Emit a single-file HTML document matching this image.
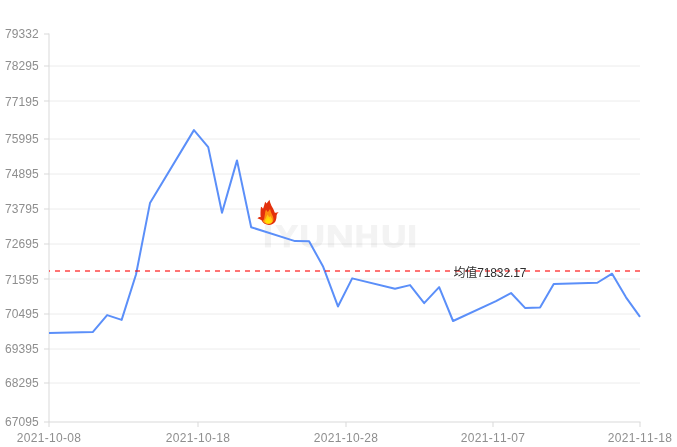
<!DOCTYPE html>
<html lang="zh-CN">
<head>
<meta charset="utf-8">
<title>均值 71832.17</title>
<style>
html,body{margin:0;padding:0;background:#fff;}
body{width:677px;height:447px;overflow:hidden;position:relative;font-family:"Liberation Sans","Noto Sans CJK SC",sans-serif;}
svg{position:absolute;left:0;top:0;display:block;}
text{font-family:"Liberation Sans","Noto Sans CJK SC",sans-serif;font-size:12px;font-kerning:none;}
.yl{text-anchor:end;fill:#8e8e8e;letter-spacing:0.08px;}
.xl{text-anchor:middle;fill:#8e8e8e;letter-spacing:0.3px;}
</style>
</head>
<body>
<svg width="677" height="447" viewBox="0 0 677 447">

<g stroke="#ececec" stroke-width="1" fill="none">
<line x1="49" y1="66" x2="640" y2="66"/>
<line x1="49" y1="101" x2="640" y2="101"/>
<line x1="49" y1="139" x2="640" y2="139"/>
<line x1="49" y1="174" x2="640" y2="174"/>
<line x1="49" y1="209" x2="640" y2="209"/>
<line x1="49" y1="244" x2="640" y2="244"/>
<line x1="49" y1="279" x2="640" y2="279"/>
<line x1="49" y1="314" x2="640" y2="314"/>
<line x1="49" y1="349" x2="640" y2="349"/>
<line x1="49" y1="383" x2="640" y2="383"/>
</g>
<text y="246.9" style="font-size:31px;font-weight:bold;fill:#000;stroke:#000;opacity:0.042;stroke-width:1.2px;stroke-linejoin:miter;text-rendering:geometricPrecision;"><tspan x="263.32" textLength="9.45" lengthAdjust="spacingAndGlyphs">I</tspan><tspan x="275.83" textLength="22.10" lengthAdjust="spacingAndGlyphs">Y</tspan><tspan x="299.50" textLength="25.23" lengthAdjust="spacingAndGlyphs">U</tspan><tspan x="326.03" textLength="27.76" lengthAdjust="spacingAndGlyphs">N</tspan><tspan x="354.88" textLength="23.95" lengthAdjust="spacingAndGlyphs">H</tspan><tspan x="381.21" textLength="25.11" lengthAdjust="spacingAndGlyphs">U</tspan><tspan x="407.57" textLength="9.26" lengthAdjust="spacingAndGlyphs">I</tspan></text>
<g stroke="#d9d9d9" stroke-width="1" fill="none">
<line x1="49" y1="33.5" x2="49" y2="427"/>
<line x1="44" y1="422" x2="640.5" y2="422"/>
<line x1="44" y1="34" x2="49" y2="34"/>
<line x1="44" y1="66" x2="49" y2="66"/>
<line x1="44" y1="101" x2="49" y2="101"/>
<line x1="44" y1="139" x2="49" y2="139"/>
<line x1="44" y1="174" x2="49" y2="174"/>
<line x1="44" y1="209" x2="49" y2="209"/>
<line x1="44" y1="244" x2="49" y2="244"/>
<line x1="44" y1="279" x2="49" y2="279"/>
<line x1="44" y1="314" x2="49" y2="314"/>
<line x1="44" y1="349" x2="49" y2="349"/>
<line x1="44" y1="383" x2="49" y2="383"/>
<line x1="198" y1="422" x2="198" y2="427"/>
<line x1="346" y1="422" x2="346" y2="427"/>
<line x1="493" y1="422" x2="493" y2="427"/>
<line x1="640" y1="422" x2="640" y2="427"/>
</g>
<text class="yl" x="38.8" y="38">79332</text>
<text class="yl" x="38.8" y="70">78295</text>
<text class="yl" x="38.8" y="106">77195</text>
<text class="yl" x="38.8" y="143">75995</text>
<text class="yl" x="38.8" y="178">74895</text>
<text class="yl" x="38.8" y="213">73795</text>
<text class="yl" x="38.8" y="248">72695</text>
<text class="yl" x="38.8" y="284">71595</text>
<text class="yl" x="38.8" y="318">70495</text>
<text class="yl" x="38.8" y="353">69395</text>
<text class="yl" x="38.8" y="387">68295</text>
<text class="yl" x="38.8" y="426">67095</text>
<text class="xl" x="49" y="442">2021-10-08</text>
<text class="xl" x="198" y="442">2021-10-18</text>
<text class="xl" x="346" y="442">2021-10-28</text>
<text class="xl" x="493" y="442">2021-11-07</text>
<text class="xl" x="640" y="442">2021-11-18</text>
<polyline fill="none" stroke="#5b8ff9" stroke-width="2" stroke-linejoin="round" points="49,333.1 92.74,332.08 107.15,315.11 121.65,319.9 136,274.5 149.99,203.09 193.94,130.11 208.23,147.09 222,212.7 237,160.4 251.18,227.2 295,241.11 309.08,241.17 323.2,266.8 337.95,306.45 352.19,278.36 395,288.83 410.06,285.13 424.18,303.09 439.15,287.14 453.05,321 496,301.1 511.04,293.06 525.26,308.09 540.07,307.42 553.73,283.98 597.31,282.73 612.1,273.71 626,297.3 640,316.9"/>
<line x1="49" y1="271" x2="640" y2="271" stroke="#ff0000" stroke-opacity="0.55" stroke-width="2" stroke-dasharray="5 5" stroke-dashoffset="4"/>
<text x="453.5" y="277.2" fill="#2e2e2e" style="font-size:12px;letter-spacing:-0.13px">均值71832.17</text>
<g transform="translate(254,197) scale(0.06711)">
<path d="M230,40 C236,70 246,100 262,135 C276,160 296,190 308,232 C322,240 344,232 368,224 C354,240 342,254 336,278 C338,300 332,340 316,368 C298,398 262,416 222,416 C176,416 132,392 112,348 C98,336 76,326 52,320 C66,304 86,296 100,300 C94,262 96,200 104,146 C112,146 124,160 134,176 C144,150 156,110 166,70 C172,76 180,86 186,96 C200,80 218,60 230,40 Z" fill="#e3300c"/>
<path d="M240,180 C244,204 252,224 260,244 C276,278 294,310 290,340 C286,372 264,392 236,400 C210,406 174,400 154,384 C140,376 130,360 130,350 C140,348 148,340 152,318 C160,286 162,250 168,220 C172,204 176,196 180,190 C190,202 198,214 206,224 C216,210 228,196 240,180 Z" fill="#ff8c10"/>
<path d="M204,262 C210,276 220,290 228,300 C232,294 238,288 244,284 C256,306 276,332 276,356 C276,380 252,396 220,398 C188,400 160,388 156,366 C154,350 164,334 174,322 C180,304 192,282 204,262 Z" fill="#ffc814"/>
<path d="M214,300 C224,318 248,338 252,360 C254,380 238,392 216,392 C194,392 174,382 176,364 C178,346 198,322 214,300 Z" fill="#ffe000"/>
</g>

</svg>
</body>
</html>
